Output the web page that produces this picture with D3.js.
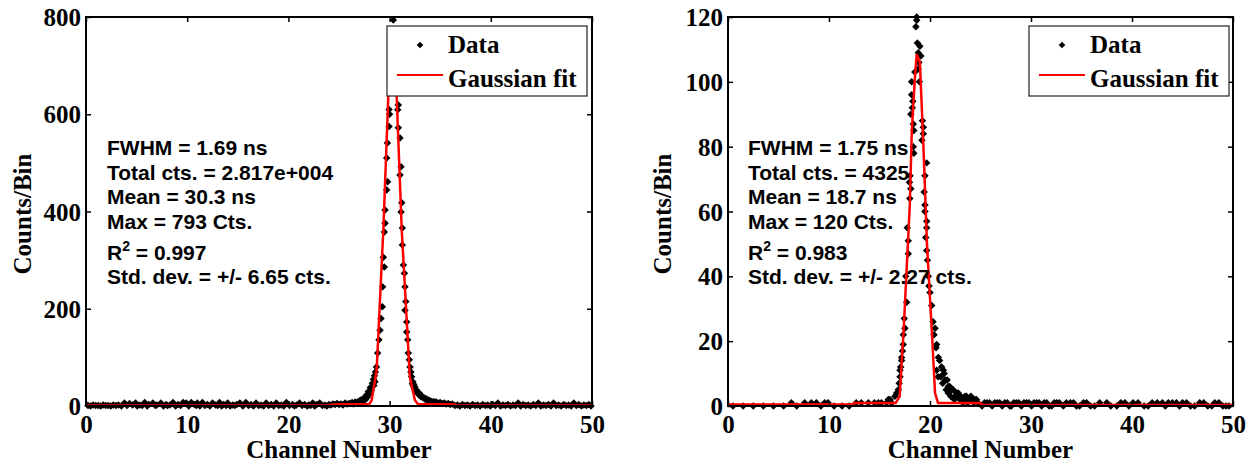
<!DOCTYPE html>
<meta charset="utf-8">
<title>Gaussian fits</title>
<style>
body { margin: 0; background: #fff; }
</style>
<body>
<script src="https://cdn.jsdelivr.net/npm/d3@7"></script>
<script>
// ---- left panel data (channel, counts)
const leftX = [0.2,0.7,1.2,1.7,2.2,2.7,3.2,3.8,4.3,4.6,4.9,5.3,5.8,6.2,6.6,7.0,7.4,7.9,8.3,8.6,9.1,9.6,9.9,10.4,10.7,11.0,11.5,12.0,12.5,12.8,13.2,13.6,14.0,14.5,14.9,15.2,15.8,16.3,16.8,17.3,17.8,18.3,18.8,19.3,19.8,20.4,20.8,21.1,21.6,22.0,22.4,22.8,23.1,23.6,24.0,
  24.4,24.8,25.2,25.6,26.0,26.3,26.6,26.9,27.1,27.3,27.5,27.7,27.9,28.1,28.3,28.4,28.5,28.6,28.7,
  28.82,28.95,29.05,29.15,29.28,29.31,29.38,29.48,29.48,29.55,29.55,29.71,29.8,29.71,29.78,29.95,29.95,30.0,30.05,30.15,30.37,30.5,30.65,
  30.8,30.86,30.86,31.03,31.13,31.03,31.2,31.13,31.26,31.26,31.36,31.46,31.52,31.52,31.6,31.69,31.69,31.79,31.85,31.95,32.02,32.1,32.18,32.3,32.4,32.5,32.6,32.75,32.9,33.0,33.2,33.4,33.6,33.8,34.0,34.3,34.6,35.0,35.4,35.8,36.2,
  36.7,37.2,37.7,38.2,38.7,39.2,39.7,40.2,40.7,41.2,41.7,42.2,42.7,43.2,43.7,44.2,44.7,45.2,45.7,46.2,46.7,47.2,47.7,48.2,48.7,49.2,49.7];
const leftY = [1,2,1,2,1,2,2,6,5,2,6,2,7,3,6,2,6,3,2,7,3,7,6,7,3,6,7,3,6,2,7,3,6,2,3,6,7,3,6,2,6,3,6,2,7,3,2,6,3,2,6,3,6,2,3,
  4,5,4,6,5,7,8,9,12,14,16,22,30,38,47,55,62,70,80,
  109,136,156,180,204,245,306,286,358,376,403,444,461,510,541,575,610,600,680,740,794,760,700,
  609,619,572,551,492,475,418,399,366,331,290,273,245,197,215,173,152,136,109,95,80,70,60,50,44,39,34,30,27,24,20,17,15,13,11,9,8,7,6,5,4,
  2,3,2,3,2,3,2,3,6,2,3,2,6,3,2,3,6,2,3,6,2,3,2,6,3,2,3];
// extra low points: the dense band hugging the axis and the tails of the peak
const leftLowX = [0.45,0.95,1.45,1.95,2.45,2.95,3.5,4.05,5.05,5.55,6.05,6.85,7.65,8.05,8.85,9.35,10.15,10.9,11.25,11.75,12.25,13.0,13.4,13.85,14.25,14.7,15.5,16.05,16.55,17.05,17.55,18.05,18.55,19.05,19.55,20.1,20.6,21.35,21.85,22.2,22.6,23.35,23.8,24.2,24.6,25.0,25.4,25.8,26.15,26.45,26.75,27.0,27.2,27.4,27.6,27.8,28.0,28.2,28.45,28.55,
  32.25,32.35,32.45,32.55,32.7,32.85,32.95,33.1,33.3,33.5,33.7,33.9,34.15,34.45,34.8,35.2,35.6,36.0,36.45,36.95,37.45,37.95,38.45,38.95,39.45,39.95,40.45,40.95,41.45,41.95,42.45,42.95,43.45,43.95,44.45,44.95,45.45,45.95,46.45,46.95,47.45,47.95,48.45,48.95,49.45,49.9];
const leftLowY = [0,1,0,1,0,1,0,1,0,1,0,1,0,1,0,1,0,1,0,1,0,1,0,1,0,1,0,1,0,1,0,1,0,1,0,1,0,1,0,1,0,1,0,2,3,3,2,4,5,4,6,8,10,11,13,18,25,33,42,50,
  46,41,36,31,28,25,22,19,17,14,12,10,9,8,6,5,4,3,1,0,1,0,1,0,1,0,1,0,1,0,1,0,1,0,1,0,1,0,1,0,1,0,1,0,1,0];
const leftFitX = [0,24.1,24.3,28.0,28.23,28.72,29.38,29.87,30.28,30.7,31.2,32.0,32.5,32.8,36.4,36.6,50];
const leftFitY = [1,1,3,4,12,74,362,636,780,636,362,60,12,4,3,1,1];
const leftStats = ["FWHM = 1.69 ns", "Total cts. = 2.817e+004", "Mean = 30.3 ns", "Max = 793 Cts.", "R|0.997", "Std. dev. = +/- 6.65 cts."];

// ---- right panel data
const rightX = [0.5,1.5,2.5,3.5,4.5,5.5,6.27,6.8,7.59,8.25,8.75,9.2,9.57,9.9,10.5,11.3,12.0,12.7,13.2,13.9,14.5,14.88,15.2,15.7,15.87,16.04,16.2,16.53,16.86,17.03,17.03,17.19,17.19,17.35,17.36,17.52,17.69,17.85,17.85,17.97,18.0,18.02,18.1,18.18,18.18,18.3,18.35,18.35,18.4,18.4,18.68,18.68,18.6,18.84,18.84,18.9,19.0,19.2,19.34,19.34,19.5,19.5,19.5,19.67,19.67,19.67,19.67,19.83,20.17,20.5,20.66,20.66,20.8,20.83,21.32,21.49,21.8,21.8,22.15,22.5,22.8,23.1,23.47,23.8,24.2,24.6,
  25.4,25.9,26.4,26.9,27.4,27.9,28.3,28.8,29.3,29.8,30.3,30.8,31.3,31.8,32.3,32.8,33.5,34.2,34.8,35.5,36.3,37.5,38.5,39.3,40.1,41.2,42.0,43.0,43.6,44.4,45.0,45.8,46.7,47.5,48.2,49.0,49.6];
const rightY = [0,0,0,0,0,0,1,0,1,1,1,0,1,1,0,0,0,1,1,1,1,1,1,1,2,2,1,3,5,9,11,14,15,19,22,24,32,47,51,69,64,71,67,96,100,94,87,80,85,78,120,119,117,109,104,106,111,82,86,84,71,62,60,75,57,55,48,40,31,24,19,11,9,15,11,8,6,4,5,3,4,2,3,2,2,2,
  1,1,1,1,1,0,1,1,1,1,1,1,1,0,1,1,1,1,0,1,0,1,0,1,1,0,1,1,1,1,1,0,1,0,1,0,0];
const rightLowX = [16.7,16.95,17.1,17.28,17.45,17.6,17.75,18.1,18.25,18.5,18.75,18.95,19.1,19.25,19.42,19.58,19.75,19.9,20.0,20.3,20.4,20.6,20.95,21.05,21.15,21.25,21.4,21.6,21.7,21.95,22.05,22.3,22.4,22.6,22.7,22.95,23.05,23.25,23.35,23.6,23.7,23.95,24.05,24.35,24.45,24.75,25.15,25.65,26.15,26.65,27.15,27.65,28.05,28.55,29.05,29.55,30.05,30.55,31.05,31.55,32.05,32.55,33.2,33.9,34.5,35.2,35.9,36.8,37.9,38.9,39.7,40.6,41.6,42.5,43.3,44.0,44.7,45.4,46.2,47.1,47.9,48.6,49.3];
const rightLowY = [4,7,12,17,27,40,55,90,92,103,112,100,108,88,66,52,45,37,35,26,22,18,14,9,12,7,10,5,8,6,3,5,2,4,3,2,3,1,2,3,1,2,3,1,2,1,0,1,0,1,0,1,0,1,0,1,0,1,0,1,0,1,0,1,0,1,0,1,0,1,0,1,0,1,0,1,0,1,0,1,0,1,0];
const rightFitX = [0,12.3,12.5,16.6,17.0,17.4,18.0,18.2,18.5,18.68,19.0,19.35,19.7,20.2,20.5,20.8,25.0,25.2,50];
const rightFitY = [0.5,0.5,0.9,0.9,3,24,62,85,101,108.5,106,80,50,22,4,0.9,0.9,0.3,0.3];
const rightStats = ["FWHM = 1.75 ns", "Total cts. = 4325", "Mean = 18.7 ns", "Max = 120 Cts.", "R|0.983", "Std. dev. = +/- 2.27 cts."];

const xTicks = [0, 10, 20, 30, 40, 50];
const leftYTicks = [0, 200, 400, 600, 800];
const rightYTicks = [0, 20, 40, 60, 80, 100, 120];

const panels = [
  {left: 86, right: 592, ymax: 800, yTicks: leftYTicks,
   xs: leftX.concat(leftLowX), ys: leftY.concat(leftLowY),
   fx: leftFitX, fy: leftFitY, stats: leftStats, textX: 107, ylabX: 31, legX: 387},
  {left: 728, right: 1233, ymax: 120, yTicks: rightYTicks,
   xs: rightX.concat(rightLowX), ys: rightY.concat(rightLowY),
   fx: rightFitX, fy: rightFitY, stats: rightStats, textX: 748, ylabX: 671, legX: 1029}
];

const plotTop = 17, plotBottom = 406;
const serif = "'Liberation Serif', 'Times New Roman', serif";
const sans = "'Liberation Sans', Arial, sans-serif";

const svg = d3.select("body").append("svg")
  .attr("width", 1255).attr("height", 466);

const marker = d3.symbol(d3.symbolSquare, 28);

panels.forEach(p => {
  const x = d3.scaleLinear().domain([0, 50]).range([p.left, p.right]);
  const y = d3.scaleLinear().domain([0, p.ymax]).range([plotBottom, plotTop]);
  const g = svg.append("g");

  // data points
  g.append("g").selectAll("path")
    .data(d3.zip(p.xs, p.ys))
    .join("path")
    .attr("d", marker)
    .attr("transform", d => `translate(${x(d[0])},${y(d[1])}) rotate(45)`)
    .attr("fill", "#000");

  // fit line
  g.append("path")
    .datum(d3.zip(p.fx, p.fy))
    .attr("fill", "none")
    .attr("stroke", "#ff0000")
    .attr("stroke-width", 2.5)
    .attr("d", d3.line().x(d => x(d[0])).y(d => y(d[1])));

  // stats text
  const baselines = [155, 180, 204, 229, 260, 284];
  p.stats.forEach((s, i) => {
    const t = g.append("text")
      .attr("x", p.textX).attr("y", baselines[i])
      .attr("font-family", sans).attr("font-weight", "bold").attr("font-size", 21);
    if (s.startsWith("R|")) {
      t.append("tspan").text("R");
      t.append("tspan").attr("dy", -9).attr("font-size", 14).text("2");
      t.append("tspan").attr("dy", 9).text(" = " + s.slice(2));
    } else {
      t.text(s);
    }
  });

  // axes, ticks inward on all sides
  const styleAxis = sel => {
    sel.select(".domain").remove();
    sel.selectAll("line").attr("stroke", "#000").attr("stroke-width", 1.5);
    sel.selectAll("text")
      .attr("font-family", serif).attr("font-weight", "bold")
      .attr("font-size", 25).attr("fill", "#000");
  };
  g.append("g").attr("transform", `translate(0,${plotBottom})`)
    .call(d3.axisBottom(x).tickValues(xTicks).tickSize(-5).tickPadding(9))
    .call(styleAxis);
  g.append("g").attr("transform", `translate(0,${plotTop})`)
    .call(d3.axisTop(x).tickValues(xTicks).tickSize(-5).tickFormat(""))
    .call(styleAxis);
  g.append("g").attr("transform", `translate(${p.left},0)`)
    .call(d3.axisLeft(y).tickValues(p.yTicks).tickSize(-5).tickPadding(5))
    .call(styleAxis)
    .selectAll("text").attr("dy", "0.34em");
  g.append("g").attr("transform", `translate(${p.right},0)`)
    .call(d3.axisRight(y).tickValues(p.yTicks).tickSize(-5).tickFormat(""))
    .call(styleAxis);

  g.append("rect")
    .attr("x", p.left).attr("y", plotTop)
    .attr("width", p.right - p.left).attr("height", plotBottom - plotTop)
    .attr("fill", "none").attr("stroke", "#000").attr("stroke-width", 2);

  // axis titles
  g.append("text")
    .attr("x", (p.left + p.right) / 2).attr("y", 458)
    .attr("text-anchor", "middle")
    .attr("font-family", serif).attr("font-weight", "bold").attr("font-size", 25)
    .text("Channel Number");
  g.append("text")
    .attr("transform", `translate(${p.ylabX},214) rotate(-90)`)
    .attr("text-anchor", "middle")
    .attr("font-family", serif).attr("font-weight", "bold").attr("font-size", 25)
    .text("Counts/Bin");

  // legend
  const lg = g.append("g").attr("transform", `translate(${p.legX},26)`);
  lg.append("rect").attr("width", 200).attr("height", 70)
    .attr("fill", "#fff").attr("stroke", "#222").attr("stroke-width", 1.2);
  lg.append("path").attr("d", d3.symbol(d3.symbolSquare, 22))
    .attr("transform", "translate(33,19) rotate(45)").attr("fill", "#000");
  lg.append("line").attr("x1", 10).attr("x2", 56).attr("y1", 49).attr("y2", 49)
    .attr("stroke", "#ff0000").attr("stroke-width", 2);
  lg.selectAll("text.lab").data(["Data", "Gaussian fit"]).join("text")
    .attr("x", 61).attr("y", (d, i) => i ? 61 : 27)
    .attr("font-family", serif).attr("font-weight", "bold").attr("font-size", 25)
    .text(d => d);
});
</script>
</body>
